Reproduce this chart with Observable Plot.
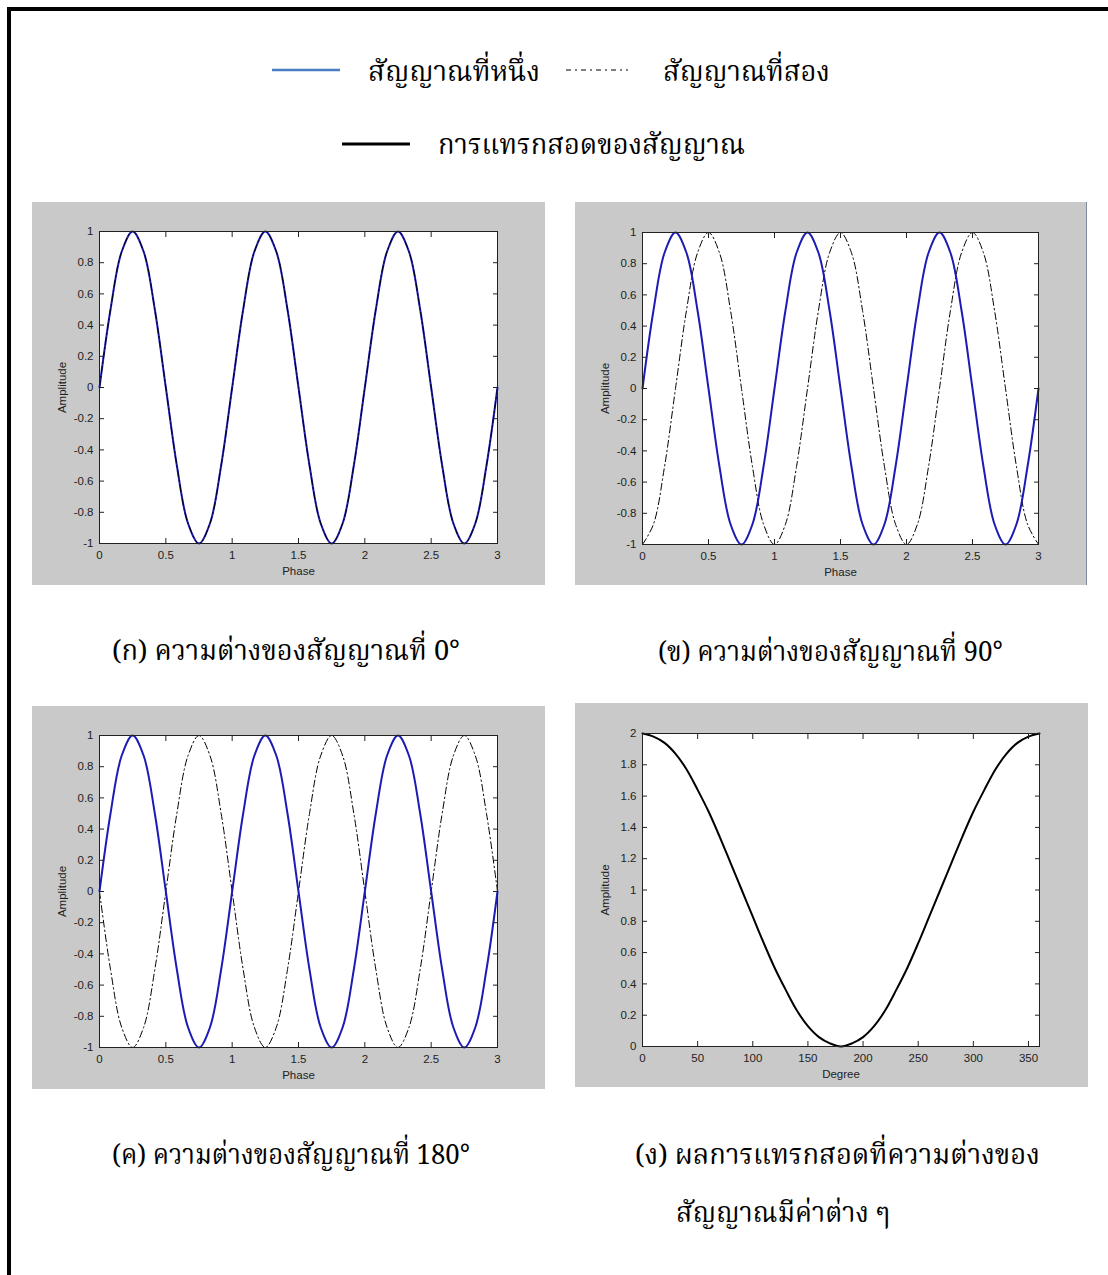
<!DOCTYPE html>
<html><head><meta charset="utf-8">
<script src="https://cdn.jsdelivr.net/npm/d3@7"></script>
<script src="https://cdn.jsdelivr.net/npm/@observablehq/plot@0.6"></script>
<style>
body{margin:0;background:#fff;}
#page{position:relative;width:1108px;height:1275px;overflow:hidden;background:#fff;}
#frame{position:absolute;left:7px;top:7px;width:1200px;height:1400px;border-left:4px solid #000;border-top:4px solid #000;box-sizing:border-box;}
.th{position:absolute;font-family:"Noto Serif Thai","Noto Sans Thai","Noto Sans",serif;font-size:28px;color:#000;white-space:nowrap;line-height:1;}
.panel{position:absolute;}
.leg{position:absolute;}
</style></head>
<body><div id="page"><div id="frame"></div></div>
<script>
// ---- data ----
const phase = [0,0.083,0.167,0.25,0.333,0.417,0.5,0.583,0.667,0.75,0.833,0.917,
  1,1.083,1.167,1.25,1.333,1.417,1.5,1.583,1.667,1.75,1.833,1.917,
  2,2.083,2.167,2.25,2.333,2.417,2.5,2.583,2.667,2.75,2.833,2.917,3];
const signal1 = [0,0.5,0.87,1,0.87,0.5,0,-0.5,-0.87,-1,-0.87,-0.5,
  0,0.5,0.87,1,0.87,0.5,0,-0.5,-0.87,-1,-0.87,-0.5,
  0,0.5,0.87,1,0.87,0.5,0,-0.5,-0.87,-1,-0.87,-0.5,0];
const signal2_0 = [0,0.5,0.87,1,0.87,0.5,0,-0.5,-0.87,-1,-0.87,-0.5,
  0,0.5,0.87,1,0.87,0.5,0,-0.5,-0.87,-1,-0.87,-0.5,
  0,0.5,0.87,1,0.87,0.5,0,-0.5,-0.87,-1,-0.87,-0.5,0];
const signal2_90 = [-1,-0.87,-0.5,0,0.5,0.87,1,0.87,0.5,0,-0.5,-0.87,
  -1,-0.87,-0.5,0,0.5,0.87,1,0.87,0.5,0,-0.5,-0.87,
  -1,-0.87,-0.5,0,0.5,0.87,1,0.87,0.5,0,-0.5,-0.87,-1];
const signal2_180 = [0,-0.5,-0.87,-1,-0.87,-0.5,0,0.5,0.87,1,0.87,0.5,
  0,-0.5,-0.87,-1,-0.87,-0.5,0,0.5,0.87,1,0.87,0.5,
  0,-0.5,-0.87,-1,-0.87,-0.5,0,0.5,0.87,1,0.87,0.5,0];
const degree = [0,10,20,30,40,50,60,70,80,90,100,110,120,130,140,150,160,170,180,
  190,200,210,220,230,240,250,260,270,280,290,300,310,320,330,340,350,360];
const interference = [2,1.98,1.94,1.87,1.77,1.64,1.5,1.34,1.17,1,0.83,0.66,0.5,0.36,0.23,0.13,0.06,0.02,0,
  0.02,0.06,0.13,0.23,0.36,0.5,0.66,0.83,1,1.17,1.34,1.5,1.64,1.77,1.87,1.94,1.98,2];
const phaseTicks = [0,0.5,1,1.5,2,2.5,3];
const ampTicks = [-1,-0.8,-0.6,-0.4,-0.2,0,0.2,0.4,0.6,0.8,1];
const degreeTicks = [0,50,100,150,200,250,300,350];
const interfTicks = [0,0.2,0.4,0.6,0.8,1,1.2,1.4,1.6,1.8,2];
const legendLabels = ["สัญญาณที่หนึ่ง","สัญญาณที่สอง","การแทรกสอดของสัญญาณ"];
const captions = ["(ก) ความต่างของสัญญาณที่ 0°","(ข) ความต่างของสัญญาณที่ 90°","(ค) ความต่างของสัญญาณที่ 180°","(ง) ผลการแทรกสอดที่ความต่างของ","สัญญาณมีค่าต่าง ๆ"];

const BLUE = "#1c1cb4";
const page = document.getElementById("page");
const fmt = d => String(Math.round(d*100)/100);

function zip(xs, ys){ return xs.map((x,i)=>({x, y: ys[i]})); }

function panel({left, top, width, height, ml, mt, mr, mb, xDomain, yDomain, xTicks, yTicks, xLabel, marks, extraStyle}) {
  const p = Plot.plot({
    width, height, marginLeft: ml, marginTop: mt, marginRight: mr, marginBottom: mb,
    style: {background: "#c9c9c9", fontFamily: "Arial, 'Liberation Sans', sans-serif", fontSize: "11.5px", color: "#222", overflow: "visible"},
    x: {domain: xDomain},
    y: {domain: yDomain},
    marks: [
      Plot.frame({fill: "white", stroke: "none"}),
      ...marks,
      Plot.frame({stroke: "#222", strokeWidth: 1}),
      Plot.axisX(xTicks, {anchor: "bottom", tickSize: -5, tickPadding: 12, tickFormat: fmt, label: xLabel, labelAnchor: "center", labelArrow: "none", labelOffset: 31, fill: "#222"}),
      Plot.axisX(xTicks, {anchor: "top", tickSize: -5, tickFormat: () => "", label: null}),
      Plot.axisY(yTicks, {anchor: "left", tickSize: -5, tickPadding: 11, tickFormat: fmt, label: "Amplitude", labelAnchor: "center", labelArrow: "none", labelOffset: 42, fill: "#222"}),
      Plot.axisY(yTicks, {anchor: "right", tickSize: -5, tickFormat: () => "", label: null})
    ]
  });
  p.classList.add("panel");
  p.style.left = left + "px";
  p.style.top = top + "px";
  if (extraStyle) Object.assign(p.style, extraStyle);
  page.appendChild(p);
}

const dashDot = "7,3,1.5,3";
// (a) 0 degrees
panel({left: 32, top: 202, width: 513, height: 383, ml: 67, mt: 29, mr: 48, mb: 42,
  xDomain: [0,3], yDomain: [-1,1], xTicks: phaseTicks, yTicks: ampTicks, xLabel: "Phase",
  marks: [
    Plot.line(zip(phase, signal1), {x: "x", y: "y", stroke: BLUE, strokeWidth: 2, curve: "catmull-rom"}),
    Plot.line(zip(phase, signal2_0), {x: "x", y: "y", stroke: "#000", strokeWidth: 1, strokeDasharray: dashDot, curve: "catmull-rom"})
  ]});
// (b) 90 degrees
panel({left: 575, top: 202, width: 511, height: 383, ml: 67, mt: 30, mr: 48, mb: 41,
  xDomain: [0,3], yDomain: [-1,1], xTicks: phaseTicks, yTicks: ampTicks, xLabel: "Phase",
  extraStyle: {borderRight: "1px solid #7d8c9c"},
  marks: [
    Plot.line(zip(phase, signal2_90), {x: "x", y: "y", stroke: "#000", strokeWidth: 1, strokeDasharray: dashDot, curve: "catmull-rom"}),
    Plot.line(zip(phase, signal1), {x: "x", y: "y", stroke: BLUE, strokeWidth: 2, curve: "catmull-rom"})
  ]});
// (c) 180 degrees
panel({left: 32, top: 706, width: 513, height: 383, ml: 67, mt: 29, mr: 48, mb: 42,
  xDomain: [0,3], yDomain: [-1,1], xTicks: phaseTicks, yTicks: ampTicks, xLabel: "Phase",
  marks: [
    Plot.line(zip(phase, signal2_180), {x: "x", y: "y", stroke: "#000", strokeWidth: 1, strokeDasharray: dashDot, curve: "catmull-rom"}),
    Plot.line(zip(phase, signal1), {x: "x", y: "y", stroke: BLUE, strokeWidth: 2, curve: "catmull-rom"})
  ]});
// (d) interference
panel({left: 575, top: 703, width: 513, height: 384, ml: 67, mt: 30, mr: 49, mb: 41,
  xDomain: [0,360], yDomain: [0,2], xTicks: degreeTicks, yTicks: interfTicks, xLabel: "Degree",
  marks: [
    Plot.line(zip(degree, interference), {x: "x", y: "y", stroke: "#000", strokeWidth: 2, curve: "catmull-rom"})
  ]});

// ---- legend ----
function legLine(x1, x2, y, stroke, width, dash) {
  const ns = "http://www.w3.org/2000/svg";
  const s = document.createElementNS(ns, "svg");
  s.setAttribute("width", x2 - x1); s.setAttribute("height", 8);
  s.classList.add("leg");
  s.style.left = x1 + "px"; s.style.top = (y - 4) + "px";
  const l = document.createElementNS(ns, "line");
  l.setAttribute("x1", 0); l.setAttribute("x2", x2 - x1); l.setAttribute("y1", 4); l.setAttribute("y2", 4);
  l.setAttribute("stroke", stroke); l.setAttribute("stroke-width", width);
  if (dash) l.setAttribute("stroke-dasharray", dash);
  s.appendChild(l);
  page.appendChild(s);
}
function thText(str, x, y, w) {
  const d = document.createElement("div");
  d.className = "th"; d.textContent = str;
  d.style.left = x + "px"; d.style.top = y + "px";
  page.appendChild(d);
  const r = d.getBoundingClientRect();
  if (w) { d.style.transformOrigin = "0 0"; d.style.transform = `scaleX(${w / r.width})`; }
  return d;
}
legLine(272, 340, 70, "#4a7cc4", 2.5);
legLine(566, 628, 70, "#000", 1.2, "5,4,2,4");
legLine(342, 410, 144, "#000", 3);
thText(legendLabels[0], 368, 60, 172);
thText(legendLabels[1], 663, 60, 167);
thText(legendLabels[2], 438, 133, 307);

thText(captions[0], 112, 639, 348);
thText(captions[1], 658, 640, 345);
thText(captions[2], 112, 1143, 358);
thText(captions[3], 635, 1143, 405);
thText(captions[4], 676, 1201, 214);
</script>
</body></html>
